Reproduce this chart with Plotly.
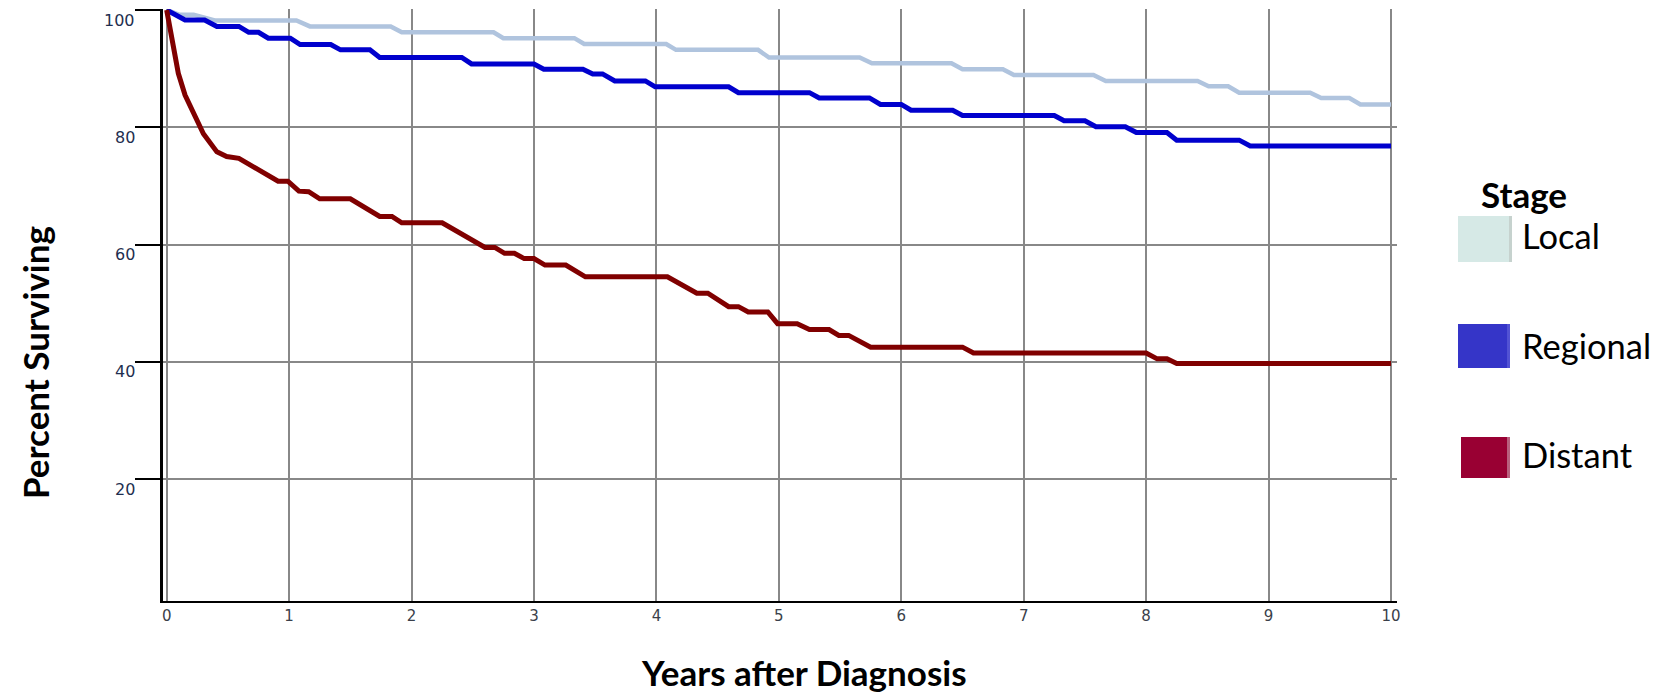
import plotly.graph_objects as go

# ---------------- data ----------------
local_t = [0, 0.1, 0.22, 0.4, 1.06, 1.17, 1.83, 1.92, 2.67, 2.75, 3.33, 3.41, 4.08, 4.16,
           4.83, 4.92, 5.66, 5.76, 6.41, 6.50, 6.83, 6.92, 7.57, 7.67, 8.42, 8.51, 8.67,
           8.76, 9.34, 9.43, 9.66, 9.75, 10.0]
local_v = [100, 99.2, 99.2, 98.2, 98.2, 97.2, 97.2, 96.2, 96.2, 95.2, 95.2, 94.2, 94.2, 93.2,
           93.2, 91.9, 91.9, 90.9, 90.9, 89.9, 89.9, 88.9, 88.9, 87.9, 87.9, 87.0, 87.0,
           85.9, 85.9, 85.0, 85.0, 83.9, 83.9]

regional_t = [0, 0.15, 0.31, 0.41, 0.59, 0.67, 0.75, 0.83, 1.01, 1.09, 1.34, 1.42, 1.66, 1.74,
              2.41, 2.49, 3.0, 3.08, 3.40, 3.48, 3.56, 3.66, 3.91, 3.99, 4.59, 4.67, 5.25,
              5.33, 5.74, 5.83, 6.0, 6.08, 6.42, 6.50, 7.25, 7.33, 7.50, 7.59, 7.83, 7.92,
              8.17, 8.25, 8.76, 8.85, 10.0]
regional_v = [100, 98.3, 98.3, 97.2, 97.2, 96.2, 96.2, 95.2, 95.2, 94.1, 94.1, 93.2, 93.2, 91.9,
              91.9, 90.8, 90.8, 89.9, 89.9, 89.1, 89.1, 87.9, 87.9, 86.9, 86.9, 85.9, 85.9,
              85.0, 85.0, 83.9, 83.9, 82.9, 82.9, 82.0, 82.0, 81.1, 81.1, 80.1, 80.1, 79.1,
              79.1, 77.8, 77.8, 76.8, 76.8]

distant_t = [0, 0.014, 0.054, 0.095, 0.15, 0.22, 0.30, 0.41, 0.49, 0.59, 0.91, 0.99, 1.08,
             1.16, 1.25, 1.50, 1.74, 1.84, 1.92, 2.25, 2.60, 2.68, 2.76, 2.84, 2.92, 3.0,
             3.09, 3.26, 3.42, 4.09, 4.33, 4.42, 4.59, 4.67, 4.75, 4.91, 4.99, 5.15, 5.25,
             5.41, 5.49, 5.57, 5.75, 6.50, 6.59, 8.0, 8.09, 8.17, 8.25, 10.0]
distant_v = [100, 98.3, 93.2, 89.2, 85.5, 82.4, 78.9, 75.8, 75.0, 74.7, 70.8, 70.8, 69.1,
             69.0, 67.8, 67.8, 64.8, 64.8, 63.7, 63.7, 59.5, 59.5, 58.5, 58.5, 57.6, 57.6,
             56.5, 56.5, 54.5, 54.5, 51.7, 51.7, 49.4, 49.4, 48.5, 48.5, 46.5, 46.5, 45.5,
             45.5, 44.5, 44.5, 42.5, 42.5, 41.5, 41.5, 40.5, 40.5, 39.7, 39.7]

x_ticks = list(range(0, 11))
y_ticks = [20, 40, 60, 80, 100]
y_tick_labels = ["20", "40", "60", "80", "100"]

series_names = ["Local", "Regional", "Distant"]
line_colors = ["#b0c4de", "#0000cd", "#800000"]
swatch_colors = ["#d6e9e6", "#3535c8", "#990033"]

# ---------------- layout geometry ----------------
W, H = 1666, 692
L, R, T, B = 163, 1397, 9, 601
PW, PH = R - L, B - T


def fx(px):
    return (px - L) / PW


def fy(py):
    return (B - py) / PH


fig = go.Figure()
for name, tt, vv, col, w in [
    ("Local", local_t, local_v, line_colors[0], 4.5),
    ("Regional", regional_t, regional_v, line_colors[1], 5),
    ("Distant", distant_t, distant_v, line_colors[2], 5),
]:
    fig.add_trace(go.Scatter(x=tt, y=vv, mode="lines", name=name,
                             line=dict(color=col, width=w), showlegend=False))

fig.update_layout(
    width=W, height=H,
    margin=dict(l=L, r=W - R, t=T, b=H - B),
    paper_bgcolor="white", plot_bgcolor="white",
    xaxis=dict(range=[-0.03, 10.049], tickvals=x_ticks, ticks="",
               showgrid=True, gridcolor="#888888", gridwidth=2,
               showline=True, linecolor="black", linewidth=2, zeroline=False,
               tickfont=dict(family="DejaVu Sans", size=15, color="#3a3f4a")),
    yaxis=dict(range=[-0.8, 100.17], tickvals=y_ticks, ticks="outside", ticklen=25,
               tickwidth=2, tickcolor="black", showticklabels=False,
               showgrid=True, gridcolor="#888888", gridwidth=2,
               showline=True, linecolor="black", linewidth=3, zeroline=False),
)

annotations = [
    dict(text="Percent Surviving", x=fx(35), y=fy(363), textangle=-90,
         font=dict(family="Lato", size=35, color="black", weight="bold")),
    dict(text="Years after Diagnosis", x=fx(804), y=fy(672),
         font=dict(family="Lato", size=35, color="black", weight="bold")),
    dict(text="Stage", x=fx(1479), y=fy(194), xanchor="left",
         font=dict(family="Lato", size=35, color="black", weight="bold")),
]
label_y = [235, 345, 454]
for name, yy in zip(series_names, label_y):
    annotations.append(dict(text=name, x=fx(1520), y=fy(yy), xanchor="left",
                            font=dict(family="Lato", size=34.5, color="black")))
for a in annotations:
    a.update(xref="paper", yref="paper")
# y tick labels, placed on the y scale
for v, lab in zip(y_ticks, y_tick_labels):
    annotations.append(dict(text=lab, x=fx(137), xref="paper", y=v, yref="y",
                            xanchor="right", yanchor="middle", yshift=-10,
                            font=dict(family="DejaVu Sans", size=16, color="#1f2f50")))
for a in annotations:
    a["showarrow"] = False
    a.setdefault("xanchor", "center")
    a.setdefault("yanchor", "middle")
fig.update_layout(annotations=annotations)

boxes = [(1458, 216, 1512, 262), (1458, 324, 1510, 368), (1461, 437, 1510, 478)]
stripes = ["#c6d2ce", "#5252d4", "#b8607e"]
shapes = []
for (x0, y0, x1, y1), c, sc in zip(boxes, swatch_colors, stripes):
    shapes.append(dict(type="rect", xref="paper", yref="paper", x0=fx(x0), x1=fx(x1),
                       y0=fy(y1), y1=fy(y0), fillcolor=c, line=dict(width=0), layer="above"))
    shapes.append(dict(type="rect", xref="paper", yref="paper", x0=fx(x1 - 3), x1=fx(x1),
                       y0=fy(y1), y1=fy(y0), fillcolor=sc, line=dict(width=0), layer="above"))
fig.update_layout(shapes=shapes)

fig.write_html("out.html")
